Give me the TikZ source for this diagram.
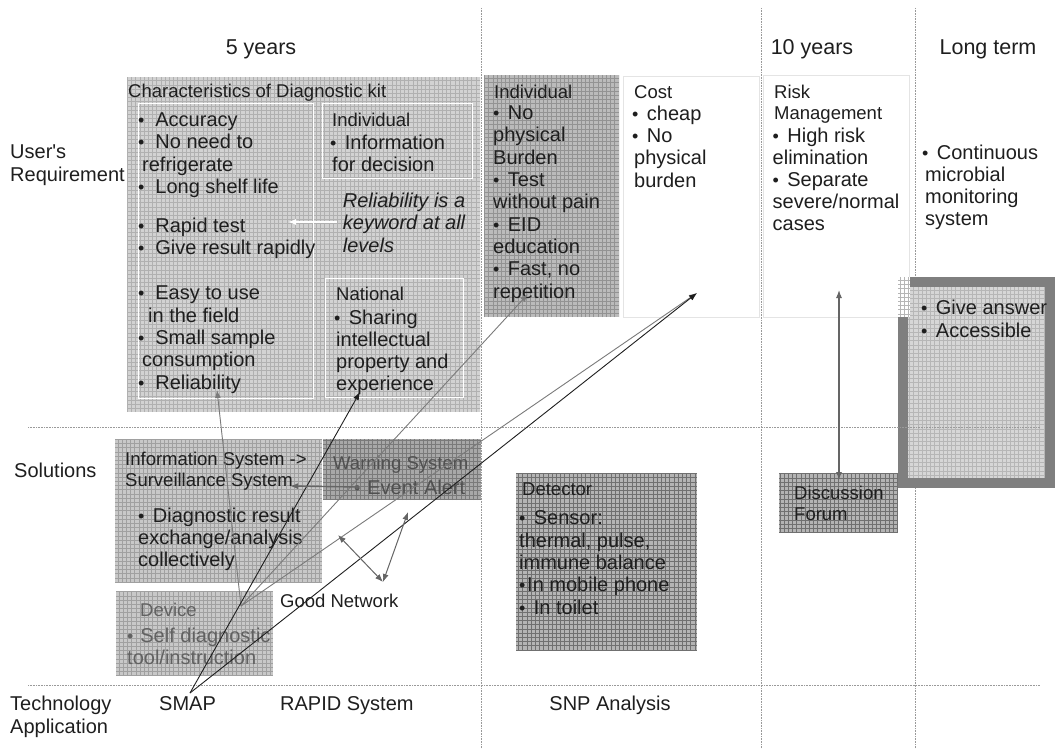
\documentclass[tikz,border=0pt]{standalone}
\usepackage{fontspec}
\setmainfont{Liberation Sans}
\usetikzlibrary{arrows.meta}

\definecolor{ink}{HTML}{1E1E1E}
\definecolor{soft}{HTML}{505050}
\definecolor{guide}{HTML}{9A9A9A}
\definecolor{kitF}{HTML}{D2D2D2}\definecolor{kitL}{HTML}{B0B0B0}
\definecolor{indF}{HTML}{BBBBBB}\definecolor{indL}{HTML}{939393}
\definecolor{infF}{HTML}{C8C8C8}\definecolor{infL}{HTML}{A0A0A0}
\definecolor{warF}{HTML}{A8A8A8}\definecolor{warL}{HTML}{7A7A7A}
\definecolor{detF}{HTML}{B4B4B4}\definecolor{detL}{HTML}{707070}
\definecolor{lngF}{HTML}{D6D6D6}\definecolor{lngL}{HTML}{B6B6B6}
\definecolor{frame}{HTML}{7F7F7F}
\definecolor{pale}{HTML}{E4E4E4}
\definecolor{arrG}{HTML}{7A7A7A}
\definecolor{arrD}{HTML}{656565}

% list bullets: the glyph, then a fixed indent before the item text
\newcommand\bulletglyph{{\fontsize{18}{18}\selectfont •}}
\newcommand\bu{\makebox[14.7pt][l]{\bulletglyph}}
\newcommand\buwide{\makebox[17.2pt][l]{\bulletglyph}}
\newcommand\bunarrow{\makebox[13.2pt][l]{\bulletglyph}}
\newcommand\butight{\makebox[8pt][l]{\bulletglyph}}

\tikzset{
  panel/.style={draw=none, inner sep=0pt, outer sep=0pt, anchor=north west},
  gridbox/.style 2 args={panel, fill=#1,
    path picture={\draw[#2, line width=0.4pt]
      (path picture bounding box.south west) grid[step=4.2pt]
      (path picture bounding box.north east);}},
  plainbox/.style={panel, fill=white, draw=pale, line width=0.8pt},
  inner/.style={panel, draw=white, line width=0.9pt},
  txt/.style={inner sep=0pt, anchor=north west, align=left, text=ink,
    font=\fontsize{20}{22.3}\selectfont},
  hd/.style={inner sep=0pt, anchor=north west, align=left, text=ink,
    font=\fontsize{18.5}{21}\selectfont},
  lbl/.style={inner sep=0pt, anchor=base west, text=ink,
    font=\fontsize{20}{23}\selectfont},
  head/.style={inner sep=0pt, anchor=base, text=ink,
    font=\fontsize{21.5}{24}\selectfont},
  guideline/.style={guide, densely dotted, line width=0.6pt},
  tip/.style={-{Latex[length=8pt,width=6pt]}},
  tips/.style={{Latex[length=8pt,width=6pt]}-{Latex[length=8pt,width=6pt]}},
}

\begin{document}
\begin{tikzpicture}[x=1pt,y=-1pt]
\useasboundingbox (0,0) rectangle (1055,749);

% column separators
\draw[guideline] (481,8) -- (481,749);
\draw[guideline] (761,8) -- (761,749);
\draw[guideline] (915,8) -- (915,749);

% column headings
\node[head] (h5) at (261,55) {5 years};
\node[head] (h10) at (812,55) {10 years};
\node[head] (hlong) at (988,55) {Long term};

% row headings
\node[txt, font=\fontsize{20}{23}\selectfont] (rUser) at (10,144.5) {User\textquotesingle s\\Requirement};
\node[lbl] (rSol) at (14,477) {Solutions};
\node[txt, font=\fontsize{20}{23}\selectfont] (rTech) at (10,695.5) {Technology\\Application};

% ---------- user's requirement row ----------
\node[gridbox={kitF}{kitL}, minimum width=353pt, minimum height=335pt] (kit) at (127,77) {};
\node[inner, minimum width=175pt, minimum height=295pt] (kitList) at (138,103) {};
\node[inner, minimum width=150pt, minimum height=75pt] (kitInd) at (322,103) {};
\node[inner, minimum width=138pt, minimum height=119pt] (kitNat) at (325,278) {};

\node[hd] (kitT) at (128,84.3) {Characteristics of Diagnostic kit};
\node[txt] (kitA) at (138,112.7) {\buwide Accuracy\\\buwide No need to\\\hspace{4pt}refrigerate\\\buwide Long shelf life};
\node[txt] (kitB) at (138,217.7) {\buwide Rapid test\\\buwide Give result rapidly};
\node[txt] (kitC) at (138,286) {\buwide Easy to use\\\hspace{10pt}in the field\\\buwide Small sample\\\hspace{4pt}consumption\\\buwide Reliability};
\node[hd] (kitIndT) at (332,112.6) {Individual};
\node[txt] (kitIndL) at (330,134.4) {\bu Information\\\hspace{2pt}for decision};
\node[txt, font=\itshape\fontsize{20}{22.5}\selectfont] (rel) at (342.7,192.7) {Reliability is a\\keyword at all\\levels};
\node[hd] (kitNatT) at (336,286.6) {National};
\node[txt] (kitNatL) at (334,309.4) {\bu Sharing\\\hspace{2pt}intellectual\\\hspace{2pt}property and\\\hspace{2pt}experience};

\node[gridbox={indF}{indL}, minimum width=135pt, minimum height=242pt] (ind) at (484,75) {};
\node[hd] (indT) at (494,85.3) {Individual};
\node[txt] (indL) at (493,105.7) {\bu No\\physical\\Burden\\\bu Test\\without pain\\\bu EID\\education\\\bu Fast, no\\repetition};

\node[plainbox, minimum width=136pt, minimum height=241pt] (cost) at (623,76) {};
\node[hd] (costT) at (634,85.3) {Cost};
\node[txt] (costL) at (632,105.7) {\bu cheap\\\bu No\\\hspace{2pt}physical\\\hspace{2pt}burden};

\node[plainbox, minimum width=146pt, minimum height=242pt] (risk) at (763,75) {};
\node[hd] (riskT) at (774,85.3) {Risk\\Management};
\node[txt, font=\fontsize{20}{22}\selectfont] (riskL) at (772.5,127.7) {\bu High risk\\elimination\\\bu Separate\\severe/normal\\cases};

\node[txt, font=\fontsize{20}{22}\selectfont] (cont) at (922,144.7) {\bu Continuous\\\hspace{3pt}microbial\\\hspace{3pt}monitoring\\\hspace{3pt}system};

% long-term solution panel with heavy frame
\node[gridbox={lngF}{lngL}, draw=frame, line width=10pt, minimum width=147pt, minimum height=201pt, anchor=north west] (long) at (903,282) {};
\node[gridbox={white}{lngL}, minimum width=12pt, minimum height=40pt] (patch) at (898,277) {};
\node[txt, font=\fontsize{20}{23}\selectfont] (longL) at (921,299.7) {\bu Give answer\\\bu Accessible};

% row separators
\draw[guideline] (28,427) -- (1040,427);
\draw[guideline] (28,685) -- (1040,685);

% ---------- solutions row ----------
\node[gridbox={infF}{infL}, minimum width=207pt, minimum height=143pt] (info) at (115,439) {};
\node[hd] (infoT) at (125,452.3) {Information System ->\\Surveillance System};
\node[txt] (infoL) at (138,507.7) {\bu Diagnostic result\\exchange/analysis\\collectively};

\node[gridbox={warF}{warL}, minimum width=158pt, minimum height=61pt] (warn) at (323,439) {};
\node[hd, text=soft] (warnT) at (333,456.3) {Warning System};
\node[txt, text=soft] (warnL) at (354,479.7) {\bunarrow Event Alert};

\node[gridbox={infF}{infL}, minimum width=157pt, minimum height=85pt] (dev) at (116,591) {};
\node[hd, text=soft!90] (devT) at (140,603.3) {Device};
\node[txt, text=soft!90] (devL) at (127,627.7) {\bunarrow Self diagnostic\\tool/instruction};

\node[lbl, font=\fontsize{18.5}{21}\selectfont] (net) at (280,607) {Good Network};

\node[gridbox={detF}{detL}, minimum width=181pt, minimum height=177pt] (det) at (516,473) {};
\node[hd] (detT) at (522,482.3) {Detector};
\node[txt] (detL) at (519,510.7) {\bu Sensor:\\thermal, pulse,\\immune balance\\\butight In mobile phone\\\bu In toilet};

\node[gridbox={detF}{detL}, minimum width=119pt, minimum height=60pt] (forum) at (779,473) {};
\node[hd] (forumT) at (794,486.3) {Discussion\\Forum};

% ---------- technology application row ----------
\node[lbl] (smap) at (159,710) {SMAP};
\node[lbl] (rapid) at (280,710) {RAPID System};
\node[lbl, anchor=base] (snp) at (610,710) {SNP Analysis};

% ---------- connectors ----------
\coordinate (relFrom) at (337,222);
\coordinate (relTo) at (288,222);
\draw[white, line width=1.2pt, tip] (relFrom) -- (relTo);

\coordinate (devHub) at (241,606);
\coordinate (smapHub) at (190,693);
\coordinate (kitRel) at (217,390);
\coordinate (natExp) at (360,392);
\coordinate (indRep) at (528,294);
\coordinate (costPt) at (697,293);
\coordinate (alertPt) at (357,487);
\coordinate (survPt) at (290,486);
\coordinate (netA) at (338,535);
\coordinate (netB) at (383,582);
\coordinate (netC) at (408,512);
\coordinate (riskPt) at (839,290);
\coordinate (forumPt) at (839,480);

\draw[arrG, line width=0.9pt, tip] (devHub) -- (kitRel);
\draw[arrG, line width=0.9pt, tip] (devHub) -- (indRep);
\draw[arrG, line width=0.9pt, tip] (devHub) -- (costPt);
\draw[ink, line width=0.9pt, tip] (smapHub) -- (natExp);
\draw[ink, line width=0.9pt, tip] (smapHub) -- (costPt);
\draw[arrD, line width=1.4pt, tip] (alertPt) -- (survPt);
\fill[arrD] (alertPt) circle (2.2pt);
\draw[arrD, line width=1pt, tips] (netA) -- (netB);
\draw[arrD, line width=1pt, tips] (netB) -- (netC);
\draw[arrD, line width=1.1pt, tips] (forumPt) -- (riskPt);
\end{tikzpicture}
\end{document}
